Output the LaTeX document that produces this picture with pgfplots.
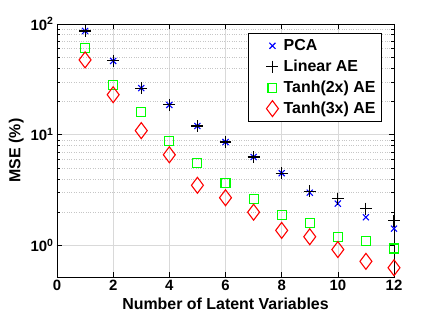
\documentclass[border=0pt]{standalone}
\usepackage{fontspec}
\setmainfont{Liberation Sans}
\usepackage{pgfplots}
\pgfplotsset{compat=1.18}
\definecolor{mblue}{RGB}{0,0,255}
\definecolor{mgreen}{RGB}{0,255,0}
\definecolor{mred}{RGB}{255,0,0}
\pgfplotsset{myleg/.style={legend image code/.code={%
  \draw[##1] plot coordinates {(0.74cm,0cm)};
  \path[draw=none,fill=none] (0cm,0cm) -- (1.03cm,0cm);}}}

\begin{document}
\begin{tikzpicture}
\useasboundingbox (-57bp,-50bp) rectangle (379bp,277bp);
\begin{semilogyaxis}[
  at={(0,0)}, anchor=south west,
  scale only axis, width=337bp, height=253bp,
  xmin=0, xmax=12, ymin=0.52, ymax=100,
  xtick={0,2,...,12},
  ytick={1,10,100},
  yticklabels={\textbf{10}\textsuperscript{\textbf{0}},
               \textbf{10}\textsuperscript{\textbf{1}},
               \textbf{10}\textsuperscript{\textbf{2}}},
  xticklabel style={font=\fontsize{15}{18}\selectfont\bfseries},
  yticklabel style={font=\fontsize{15}{18}\selectfont},
  /pgf/number format/assume math mode=true,
  xlabel={\textbf{Number of Latent Variables}},
  ylabel={\textbf{MSE (\%)}},
  label style={font=\fontsize{16}{19}\selectfont},
  tick align=inside,
  major tick length=5bp, minor tick length=3bp,
  tick style={black, line width=0.6pt},
  axis line style={line width=0.7pt},
  xmajorgrids, ymajorgrids, yminorgrids,
  major grid style={gray!30, line width=0.6pt},
  minor grid style={gray!45, dotted, line width=0.6pt},
  legend style={at={(0.567,0.964)}, anchor=north west,
    draw=black, line width=0.8pt, fill=white,
    font=\fontsize{16}{19}\selectfont\bfseries,
    row sep=4pt, inner xsep=3pt, inner ysep=4pt,
    nodes={inner xsep=3pt}},
  legend cell align=left,
]
\addplot[only marks, mark=x, mark size=4.3pt, color=mblue, line width=1.1pt, myleg]
  coordinates {(1,86.5)(2,46.4)(3,26.4)(4,18.6)(5,12.0)(6,8.6)
               (7,6.3)(8,4.5)(9,3.0)(10,2.39)(11,1.80)(12,1.42)};
\addlegendentry{PCA}
\addplot[only marks, mark=+, mark size=6pt, color=black, line width=1.1pt, myleg]
  coordinates {(1,86.5)(2,46.4)(3,26.4)(4,18.6)(5,12.0)(6,8.6)
               (7,6.3)(8,4.5)(9,3.1)(10,2.65)(11,2.15)(12,1.68)};
\addlegendentry{Linear AE}
\addplot[only marks, mark=square, mark size=4.5pt, color=mgreen, line width=1.1pt, myleg]
  coordinates {(1,60.7)(2,28.2)(3,16.1)(4,8.8)(5,5.6)(6,3.7)
               (7,2.65)(8,1.9)(9,1.61)(10,1.2)(11,1.09)(12,0.94)};
\addlegendentry{Tanh(2x) AE}
\addplot[only marks, mark=diamond, mark size=8pt, color=mred, line width=1.1pt, myleg]
  coordinates {(1,47.4)(2,23.0)(3,10.9)(4,6.6)(5,3.5)(6,2.7)
               (7,2.0)(8,1.37)(9,1.2)(10,0.92)(11,0.72)(12,0.63)};
\addlegendentry{Tanh(3x) AE}
\end{semilogyaxis}
\end{tikzpicture}
\end{document}
